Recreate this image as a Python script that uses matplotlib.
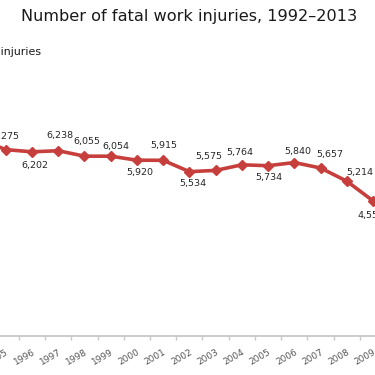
import matplotlib
matplotlib.use("Agg")
import matplotlib.pyplot as plt
import numpy as np

years = [str(y) for y in range(1992, 2014)]
fatalities = [6217, 6331, 6632, 6275, 6202, 6238, 6055, 6054, 5920, 5915, 5534,
              5575, 5764, 5734, 5840, 5657, 5214, 4551, 4690, 4693, 4628, 4405]
value_labels = [f"{v:,}" for v in fatalities]

# label offsets in pixels (dx, dy), dy positive = up
label_offsets = [(0, 14), (0, 14), (0, 14), (0, 13), (3, -14), (2, 15), (2, 15),
                 (5, 10), (3, -12), (1, 15), (3, -12), (-7, 14), (-2, 12),
                 (1, -12), (3, 11), (9, 13), (13, 9), (-2, -15), (0, 14),
                 (0, 14), (0, 14), (0, 14)]

W, H = 375, 375
fig = plt.figure(figsize=(W / 100, H / 100), dpi=100)

# axes geometry in pixels
x0_px = 32 - 4.5 * 26.23          # left edge (category -0.5)
x1_px = 32 + 17.5 * 26.23         # right edge (category 21.5)
ymax = 8000
ybase_px = 336
ytop_px = ybase_px - ymax * 0.0297
ax = fig.add_axes([x0_px / W, (H - ybase_px) / H, (x1_px - x0_px) / W,
                   (ybase_px - ytop_px) / H])

x = np.arange(len(years))
red = "#C73F3D"
ax.plot(x, fatalities, color=red, lw=2.6, marker="D", ms=5.5,
        markerfacecolor=red, markeredgecolor=red, solid_capstyle="round",
        zorder=3)

for xi, v, lab, (dx, dy) in zip(x, fatalities, value_labels, label_offsets):
    ax.annotate(lab, (xi, v), xytext=(dx, dy), textcoords="offset pixels",
                ha="center", va="center", fontsize=6.8, color="#262626")

ax.set_xlim(-0.5, len(years) - 0.5)
ax.set_ylim(0, ymax)
for s in ["top", "right", "left"]:
    ax.spines[s].set_visible(False)
ax.spines["bottom"].set_color("#C8C8C8")
ax.spines["bottom"].set_linewidth(1.3)
ax.set_yticks([])

ax.set_xticks(x)
ax.set_xticklabels(years, rotation=30, ha="right", rotation_mode="anchor",
                   fontsize=6.5, color="#555555")
ax.tick_params(axis="x", which="major", length=0, pad=8.5)
ax.set_xticks(np.arange(-0.5, len(years), 1.0), minor=True)
ax.tick_params(axis="x", which="minor", length=3, color="#C8C8C8", width=1)

fig.text(189 / W, 1 - 16 / H, "Number of fatal work injuries, 1992\u20132013",
         ha="center", va="center", fontsize=11.6, color="#1a1a1a")
fig.text(41 / W, 1 - 52 / H, "Number of fatal injuries", ha="right",
         va="center", fontsize=7.9, color="#1a1a1a")

fig.savefig("out.png", dpi=100)
